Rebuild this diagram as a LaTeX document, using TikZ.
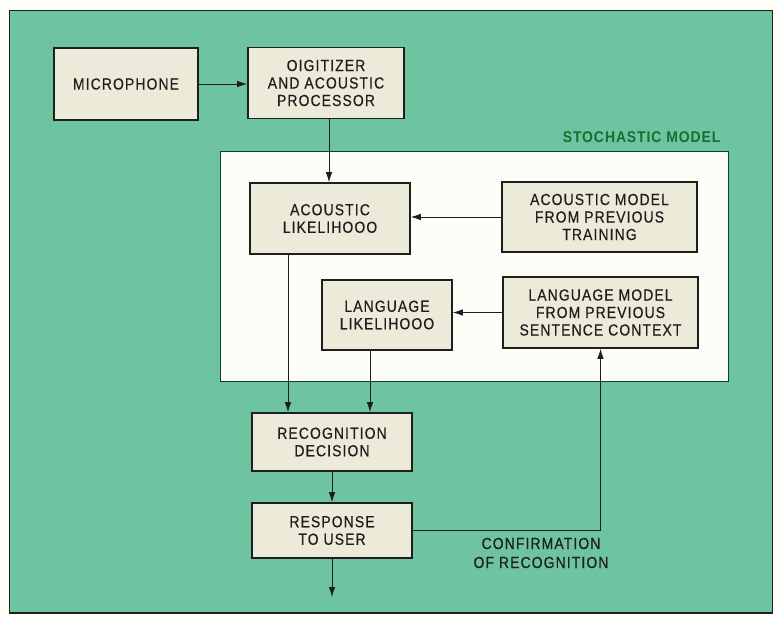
\documentclass[tikz,border=0pt]{standalone}
\usepackage{fontspec}
\setmainfont{Liberation Sans}
\newfontfamily\labfont[LetterSpace=7,FakeStretch=0.87,FakeBold=0.4]{Liberation Sans}
\newfontfamily\titfont[LetterSpace=6,FakeStretch=0.9]{Liberation Sans Bold}
\usetikzlibrary{arrows.meta,calc}
\definecolor{panelgreen}{RGB}{110,196,160}
\definecolor{boxfill}{RGB}{236,234,216}
\definecolor{innerwhite}{RGB}{253,253,248}
\definecolor{titgreen}{RGB}{22,110,50}
\definecolor{inkc}{RGB}{30,30,30}
\begin{document}
\begin{tikzpicture}[x=1pt,y=-1pt,
  blk/.style={draw=inkc,line width=1.6pt,fill=boxfill,align=center,inner sep=0pt,
    font=\labfont\fontsize{16}{17.5}\selectfont,text=inkc},
  conn/.style={draw=inkc,line width=0.8pt,-{Latex[length=10pt,width=6.5pt]}},
  plain/.style={draw=inkc,line width=0.8pt}]
\useasboundingbox (0,0) rectangle (775,617);
\fill[white!97!yellow] (0,0) rectangle (775,617);
\filldraw[fill=panelgreen,draw=inkc,line width=0.8pt] (9,10) rectangle (772,613);
\draw[inkc,line width=2pt] (9,613) -- (772,613);
% stochastic model frame
\filldraw[fill=innerwhite,draw=titgreen!60!black,line width=0.8pt] (220,151) rectangle (728,381);
\node[anchor=east,font=\titfont\fontsize{15.5}{16}\selectfont,text=titgreen] (stt) at (724,137) {STOCHASTIC MODEL};
% blocks
\node[blk,minimum width=144pt,minimum height=72pt] (MIC) at (126,84) {MICROPHONE};
\node[blk,minimum width=156pt,minimum height=71pt] (DIG) at (326,83) {OIGITIZER\\AND ACOUSTIC\\PROCESSOR};
\node[blk,minimum width=160pt,minimum height=71pt] (AL) at (330,218.5) {ACOUSTIC\\LIKELIHOOO};
\node[blk,minimum width=195pt,minimum height=70pt] (AM) at (599.5,217) {ACOUSTIC MODEL\\FROM PREVIOUS\\TRAINING};
\node[blk,minimum width=130pt,minimum height=70pt] (LL) at (387,315) {LANGUAGE\\LIKELIHOOO};
\node[blk,minimum width=195pt,minimum height=71pt] (LM) at (600.5,312.5) {LANGUAGE MODEL\\FROM PREVIOUS\\SENTENCE CONTEXT};
\node[blk,minimum width=160pt,minimum height=58pt] (RD) at (332,442) {RECOGNITION\\DECISION};
\node[blk,minimum width=160pt,minimum height=55pt] (RU) at (332,530.5) {RESPONSE\\TO USER};
\node[align=center,font=\labfont\fontsize{16}{19}\selectfont,text=inkc] (conf) at (541,553) {CONFIRMATION\\OF RECOGNITION};
% connectors
\draw[conn] (MIC.east) -- (MIC.east -| DIG.west);
\coordinate (dg) at ([xshift=3pt]DIG.south);
\draw[conn] (dg) -- (dg |- AL.north);
\draw[conn] (AM.west) -- (AM.west -| AL.east);
\draw[conn] (LM.west) -- (LM.west -| LL.east);
\coordinate (al1) at ([xshift=-42pt]AL.south);
\draw[conn] (al1) -- (al1 |- RD.north);
\coordinate (ll1) at ([xshift=-17pt]LL.south);
\draw[conn] (ll1) -- (ll1 |- RD.north);
\draw[conn] (RD.south) -- (RU.north);
\coordinate (outp) at (332,597);
\draw[conn] (RU.south) -- (outp);
\draw[conn] (RU.east) -| (LM.south);
\end{tikzpicture}
\end{document}
